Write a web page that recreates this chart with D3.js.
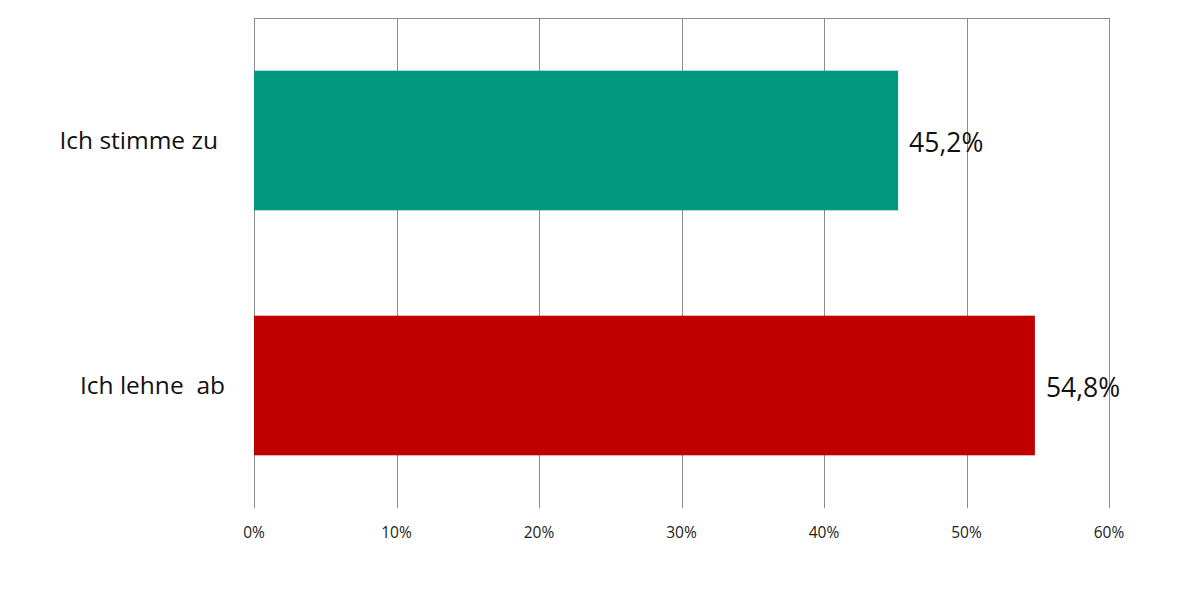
<!DOCTYPE html>
<html><head><meta charset="utf-8">
<script src="https://cdn.jsdelivr.net/npm/d3@7"></script>
<style>body{margin:0;background:#fff}svg{display:block}text{font-family:"Open Sans","Noto Sans",sans-serif}</style>
</head><body>
<svg id="c" width="1200" height="589"></svg>
<script>
const categories = ["Ich stimme zu", "Ich lehne  ab"];
const values = [45.2, 54.8];
const colors = ["#009980", "#C00000"];
const valueLabels = ["45,2%", "54,8%"];
const tickValues = [0, 10, 20, 30, 40, 50, 60];

const svg = d3.select("#c");
const mLeft = 254, mRight = 1109, mTop = 18, mBottom = 508;
const x = d3.scaleLinear().domain([0, 60]).range([mLeft, mRight]);
const y = d3.scaleBand().domain(categories).range([mTop, mBottom]).paddingInner(0.43).paddingOuter(0.215);

// top border
svg.append("line").attr("x1", mLeft).attr("x2", mRight).attr("y1", mTop + 0.5).attr("y2", mTop + 0.5)
  .attr("stroke", "#8c8c8c").attr("stroke-width", 1);

// gridlines
svg.append("g").selectAll("line").data(tickValues).join("line")
  .attr("x1", d => Math.round(x(d)) + 0.5).attr("x2", d => Math.round(x(d)) + 0.5)
  .attr("y1", mTop).attr("y2", mBottom)
  .attr("stroke", "#8c8c8c").attr("stroke-width", 1);

// tick labels
svg.append("g").selectAll("text").data(tickValues).join("text")
  .attr("x", d => x(d)).attr("y", 538)
  .attr("text-anchor", "middle").attr("font-size", 15.5).attr("fill", "#222")
  .text(d => d + "%");

// bars
svg.append("g").selectAll("rect").data(categories).join("rect")
  .attr("x", x(0)).attr("y", d => y(d))
  .attr("width", (d, i) => x(values[i]) - x(0)).attr("height", y.bandwidth())
  .attr("fill", (d, i) => colors[i]);

// category labels
svg.append("g").selectAll("text").data(categories).join("text")
  .attr("x", (d, i) => i === 0 ? 218 : 225).attr("y", d => y(d) + y.bandwidth() / 2)
  .attr("dy", "0.35em").attr("text-anchor", "end").attr("font-size", 24.5).attr("fill", "#111")
  .style("white-space", "pre")
  .text(d => d);

// value labels
svg.append("g").selectAll("text").data(categories).join("text")
  .attr("x", (d, i) => x(values[i]) + 11).attr("y", d => y(d) + y.bandwidth() / 2 + 2)
  .attr("dy", "0.35em").attr("font-size", 26.5).attr("fill", "#111")
  .text((d, i) => valueLabels[i]);
</script>
</body></html>
